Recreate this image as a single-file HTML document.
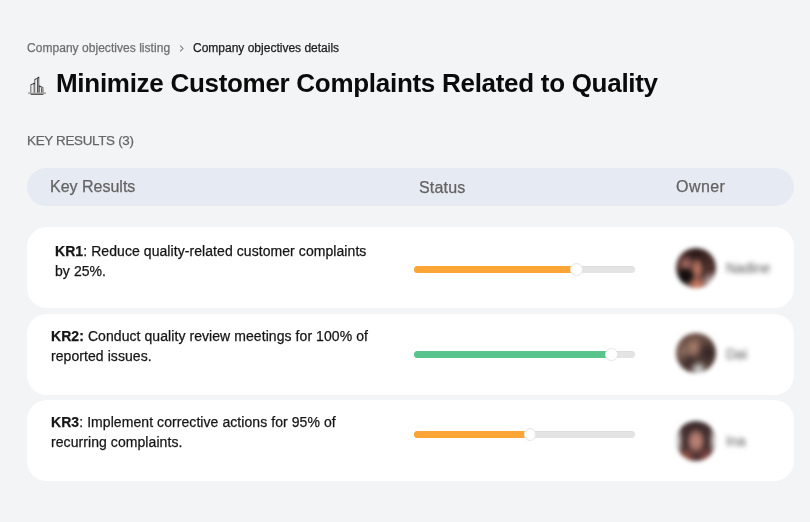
<!DOCTYPE html>
<html>
<head>
<meta charset="utf-8">
<style>
html,body{margin:0;padding:0;}
body{width:810px;height:522px;background:#f3f4f6;font-family:"Liberation Sans",sans-serif;position:relative;overflow:hidden;}
#root{position:absolute;left:0;top:0;width:810px;height:522px;will-change:transform;}
.t{position:absolute;white-space:nowrap;line-height:20px;-webkit-text-stroke:0.25px currentColor;}
.crumb1{left:27px;top:38px;font-size:12px;color:#6e6e6e;letter-spacing:0.04px;}
.sep{position:absolute;left:179px;top:45px;}
.crumb2{left:193px;top:38px;font-size:12px;color:#1c1c1c;}
.title{left:56px;top:67px;font-size:26px;font-weight:bold;color:#0b0b0b;letter-spacing:-0.29px;line-height:32px;-webkit-text-stroke:0;}
.icon{position:absolute;left:26px;top:75px;}
.kr{left:27px;top:131.2px;font-size:13.4px;letter-spacing:-0.3px;color:#666;}
.head{position:absolute;left:27px;top:168px;width:767px;height:38px;border-radius:19px;background:#e6eaf2;}
.h{font-size:16px;color:#636363;}
.card{position:absolute;left:27px;width:767px;background:#fff;border-radius:20px;}
.txt{font-size:14px;color:#161616;line-height:20px;letter-spacing:0.07px;}
.bar{position:absolute;left:414px;width:221px;height:7px;border-radius:4px;background:#e4e4e4;box-shadow:inset 0 1px 1px rgba(0,0,0,0.03);}
.fill{position:absolute;left:0;top:0;height:7px;border-radius:4px;}
.knob{position:absolute;width:10.6px;height:10.6px;border-radius:50%;background:#fff;border:1px solid #e6e6e6;}
.av{position:absolute;width:40px;height:40px;border-radius:50%;filter:blur(2.2px);}
.nm{position:absolute;font-size:14px;line-height:18px;color:#555;filter:blur(2.6px);white-space:nowrap;}
</style>
</head>
<body>
<div id="root">
<div class="t crumb1">Company objectives listing</div>
<svg class="sep" width="6" height="8" viewBox="0 0 6 8"><path d="M1.2 0.6 L4 3.5 L1.2 6.4" fill="none" stroke="#7a7a7a" stroke-width="1.05"/></svg>
<div class="t crumb2">Company objectives details</div>

<svg class="icon" width="22" height="22" viewBox="0 0 22 22">
  <path d="M2.2 18.1 H19.8" stroke="#8c8c8c" stroke-width="1.4"/>
  <path d="M4.6 19.4 H17.4" stroke="#4a4a4a" stroke-width="1"/>
  <path d="M4.8 17.6 V9.8 L8.1 8.4 V17.6" fill="#ececec" stroke="#727272" stroke-width="1.1"/>
  <path d="M8.7 17.6 V4.6 L12.8 2.6 V17.6" fill="#ececec" stroke="#727272" stroke-width="1.1"/>
  <path d="M11.6 17.6 V3.4" stroke="#333" stroke-width="0.9"/>
  <path d="M13.4 17.6 V11.2 L17 12.6 V17.6" fill="#ececec" stroke="#727272" stroke-width="1.1"/>
  <path d="M15.6 17.6 V13.2" stroke="#333" stroke-width="0.9"/>
  <path d="M5 9.7 L8.2 8.3" stroke="#3a3a3a" stroke-width="0.9" stroke-dasharray="1 1"/>
  <path d="M8.9 4.5 L12.7 2.5" stroke="#3a3a3a" stroke-width="0.9" stroke-dasharray="1 1"/>
  <path d="M13.5 11.2 L16.9 12.5" stroke="#3a3a3a" stroke-width="0.9" stroke-dasharray="1 1"/>
  <circle cx="8.3" cy="8.4" r="0.7" fill="#222"/>
  <circle cx="12.4" cy="2.5" r="0.7" fill="#222"/>
  <circle cx="13.9" cy="11.3" r="0.7" fill="#222"/>
</svg>
<div class="t title">Minimize Customer Complaints Related to Quality</div>

<div class="t kr">KEY RESULTS (3)</div>

<div class="head"></div>
<div class="t h" style="left:50px;top:177px;">Key Results</div>
<div class="t h" style="left:419px;top:178px;letter-spacing:0.2px;">Status</div>
<div class="t h" style="left:676px;top:177px;letter-spacing:0.45px;">Owner</div>

<div class="card" style="top:227px;height:81px;"></div>
<div class="card" style="top:313.5px;height:81px;"></div>
<div class="card" style="top:399.6px;height:81px;"></div>

<div class="t txt" style="left:55px;top:241px;"><b>KR1</b>: Reduce quality-related customer complaints<br>by 25%.</div>
<div class="t txt" style="left:51px;top:326px;"><b>KR2:</b> Conduct quality review meetings for 100% of<br>reported issues.</div>
<div class="t txt" style="left:51px;top:412px;"><b>KR3</b>: Implement corrective actions for 95% of<br>recurring complaints.</div>

<div class="bar" style="top:266px;"><div class="fill" style="width:162px;background:#fba534;"></div><div class="knob" style="left:156.4px;top:-2.7px;"></div></div>
<div class="bar" style="top:350.6px;"><div class="fill" style="width:197px;background:#58c58d;"></div><div class="knob" style="left:191.4px;top:-2.7px;"></div></div>
<div class="bar" style="top:431px;"><div class="fill" style="width:116px;background:#fba534;"></div><div class="knob" style="left:109.9px;top:-2.7px;"></div></div>

<div class="av" style="left:676px;top:247.5px;background:
 radial-gradient(circle at 52% 92%,#e88a68 0,rgba(232,138,104,0) 22%),
 radial-gradient(circle at 22% 72%,#0e0a0a 0,rgba(14,10,10,0.9) 12%,rgba(14,10,10,0) 25%),
 radial-gradient(ellipse 16% 30% at 53% 52%,#c98068 0,rgba(201,128,104,0.6) 60%,rgba(201,128,104,0) 100%),
 radial-gradient(circle at 26% 40%,#b27068 0,rgba(178,112,104,0) 25%),
 radial-gradient(circle at 8% 92%,#f6f0f2 0,rgba(246,240,242,0) 26%),
 radial-gradient(circle at 92% 90%,#f2eaec 0,rgba(242,234,236,0) 26%),
 radial-gradient(ellipse at 50% 18%,#2a1818 0,rgba(42,24,24,0) 45%),
 linear-gradient(#3e2624,#5a3a34);"></div>
<div class="nm" style="left:726px;top:259px;">Nadine</div>
<div class="av" style="left:676px;top:332.5px;background:
 radial-gradient(circle at 56% 92%,#dde4e4 0,rgba(221,228,228,0) 22%),
 radial-gradient(ellipse 22% 28% at 45% 36%,#b28470 0,rgba(178,132,112,0) 100%),
 radial-gradient(circle at 80% 50%,#2e2222 0,rgba(46,34,34,0) 38%),
 radial-gradient(circle at 35% 74%,#3a2828 0,rgba(58,40,40,0) 25%),
 radial-gradient(circle at 18% 45%,#8a6a5c 0,rgba(138,106,92,0) 30%),
 linear-gradient(#6e5248,#54403a);"></div>
<div class="nm" style="left:726px;top:345px;">Dai</div>
<div class="av" style="left:675.5px;top:421px;background:
 radial-gradient(ellipse 24% 32% at 50% 50%,#c88a7c 0,rgba(200,138,124,0.7) 60%,rgba(200,138,124,0) 100%),
 radial-gradient(circle at 25% 90%,#a05848 0,rgba(160,88,72,0) 22%),
 radial-gradient(circle at 76% 90%,#8a4a44 0,rgba(138,74,68,0) 22%),
 radial-gradient(ellipse 16% 50% at 3% 50%,#f4f0f0 0,rgba(244,240,240,0) 100%),
 radial-gradient(ellipse 16% 50% at 97% 50%,#f0ecec 0,rgba(240,236,236,0) 100%),
 linear-gradient(#3e2c2c,#4a3232);"></div>
<div class="nm" style="left:726px;top:432px;">Ina</div>
</div>
</body>
</html>
